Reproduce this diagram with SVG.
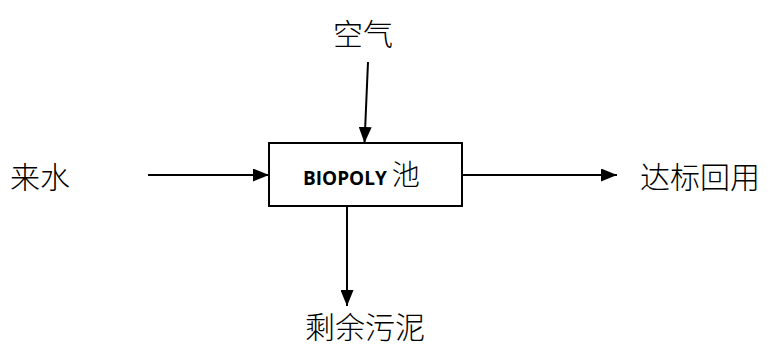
<svg xmlns="http://www.w3.org/2000/svg" width="768" height="351" viewBox="0 0 768 351">
<style>
.cn{font-family:"Noto Sans CJK SC","Noto Sans CJK JP",sans-serif;font-size:30px;font-weight:300;fill:#000}
.ln{stroke:#000;stroke-width:2;fill:none}
</style>
<defs>
<marker id="ah" viewBox="0 0 10 10" refX="10" refY="5" markerWidth="16" markerHeight="13" markerUnits="userSpaceOnUse" orient="auto" preserveAspectRatio="none">
<path d="M0,0 L10,5 L0,10 z" fill="#000"/>
</marker>
</defs>
<rect width="768" height="351" fill="#fff"/>
<g id="connectors">
<line class="ln" x1="368" y1="62" x2="364.5" y2="143" marker-end="url(#ah)"/>
<line class="ln" x1="148" y1="175" x2="269" y2="175" marker-end="url(#ah)"/>
<line class="ln" x1="462" y1="175" x2="617" y2="175" marker-end="url(#ah)"/>
<line class="ln" x1="347" y1="206" x2="347" y2="306" marker-end="url(#ah)"/>
</g>
<g id="pool">
<rect x="269" y="143" width="193" height="63" fill="#fff" stroke="#000" stroke-width="2"/>
<text x="303" y="185" style="font-family:'Open Sans','Liberation Sans',sans-serif;font-weight:bold;font-size:19px">BIOPOLY <tspan style="font-family:'Noto Sans CJK SC',sans-serif;font-weight:300;font-size:28px">池</tspan></text>
</g>
<g id="air"><text class="cn" x="333" y="45">空气</text></g>
<g id="inflow"><text class="cn" x="10" y="188">来水</text></g>
<g id="reuse"><text class="cn" x="640" y="188">达标回用</text></g>
<g id="sludge"><text class="cn" x="305" y="338">剩余污泥</text></g>
</svg>
